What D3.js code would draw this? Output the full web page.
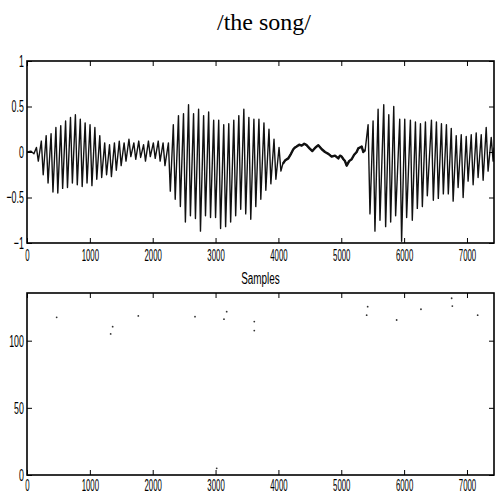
<!DOCTYPE html>
<html>
<head>
<meta charset="utf-8">
<script src="https://cdnjs.cloudflare.com/ajax/libs/d3/7.8.5/d3.min.js"></script>
<style>
  body { margin: 0; background: #fff; }
  svg { display: block; }
</style>
</head>
<body>
<svg id="plot" width="495" height="494"></svg>
<script>
// voiced part 1: pulse sample, peak, trough
const pulseSec1 = [150, 228, 305, 383, 460, 537, 614, 692, 770, 848, 925, 1003, 1080, 1158, 1236, 1313, 1391, 1468, 1545, 1622, 1700, 1778, 1855, 1932, 2010, 2088, 2165];
const hiSec1 = [0.05, 0.12, 0.18, 0.2, 0.27, 0.29, 0.34, 0.38, 0.41, 0.36, 0.32, 0.3, 0.27, 0.18, 0.1, 0.08, 0.1, 0.12, 0.1, 0.14, 0.1, 0.12, 0.08, 0.12, 0.1, 0.12, 0.1];
const loSec1 = [-0.1, -0.25, -0.34, -0.44, -0.45, -0.4, -0.39, -0.34, -0.36, -0.38, -0.34, -0.37, -0.3, -0.28, -0.25, -0.27, -0.2, -0.15, -0.1, -0.05, -0.08, -0.06, -0.1, -0.05, -0.07, -0.1, -0.15];

// voiced part 2
const pulseSec2 = [2250, 2328, 2410, 2490, 2570, 2650, 2730, 2810, 2890, 2970, 3050, 3130, 3210, 3290, 3370, 3450, 3530, 3610, 3690, 3770, 3850, 3930, 4010];
const hiSec2 = [0.1, 0.3, 0.4, 0.42, 0.52, 0.42, 0.47, 0.4, 0.44, 0.35, 0.35, 0.3, 0.31, 0.35, 0.4, 0.47, 0.38, 0.36, 0.36, 0.32, 0.25, 0.14, 0.05];
const loSec2 = [-0.43, -0.52, -0.6, -0.77, -0.7, -0.73, -0.87, -0.7, -0.72, -0.72, -0.84, -0.82, -0.77, -0.7, -0.63, -0.68, -0.74, -0.6, -0.52, -0.42, -0.35, -0.3, -0.21];

// unvoiced stretch ("s")
const noiseSamples = [4070, 4110, 4157, 4200, 4237, 4265, 4290, 4330, 4370, 4410, 4450, 4495, 4540, 4590, 4635, 4690, 4741, 4795, 4847, 4900, 4953, 4980, 5006, 5035, 5059, 5086, 5125, 5165, 5205, 5245, 5270, 5298, 5325, 5350, 5380];
const noiseValues = [-0.13, -0.09, -0.07, -0.02, 0.03, 0.05, 0.06, 0.08, 0.07, 0.09, 0.075, 0.04, 0.01, 0.05, 0.075, 0.03, 0.0, -0.02, -0.05, -0.04, -0.07, -0.04, -0.05, -0.08, -0.1, -0.15, -0.1, -0.08, -0.03, 0.0, 0.04, 0.05, 0.06, 0.0, 0.02];

// voiced part 3
const pulseSec3 = [5427, 5506, 5586, 5676, 5756, 5835, 5930, 6010, 6100, 6180, 6260, 6339, 6435, 6514, 6594, 6673, 6750, 6829, 6909, 6988, 7068, 7147, 7227, 7306, 7386];
const hiSec3 = [0.3, 0.34, 0.47, 0.52, 0.41, 0.5, 0.36, 0.36, 0.35, 0.33, 0.31, 0.33, 0.35, 0.33, 0.31, 0.3, 0.26, 0.18, 0.19, 0.17, 0.19, 0.21, 0.19, 0.27, 0.16];
const loSec3 = [-0.68, -0.87, -0.75, -0.82, -0.77, -0.7, -0.98, -0.72, -0.75, -0.62, -0.6, -0.48, -0.53, -0.51, -0.46, -0.46, -0.54, -0.39, -0.5, -0.32, -0.36, -0.28, -0.31, -0.21, -0.1];

// pitch track dots
const pitchSamples = [472, 1331, 1363, 1771, 2673, 3018, 3134, 3177, 3616, 3616, 5404, 5420, 5881, 6268, 6756, 6767, 7170];
const pitchValues = [117.4, 105, 110.4, 118.4, 117.9, 5, 116, 121.6, 114.2, 107.5, 119, 125.3, 115.4, 123.4, 131.6, 125.8, 119];

const xTicks = [0, 1000, 2000, 3000, 4000, 5000, 6000, 7000];
const waveTicks = [-1, -0.5, 0, 0.5, 1];
const pitchTicks = [0, 50, 100];

const plot = d3.select('#plot');
const left = 27, right = 494;
const labelFont = 'Liberation Sans, Arial, sans-serif';

const xScale = d3.scaleLinear().domain([0, 7430]).range([left, right]);
const yWave = d3.scaleLinear().domain([-1, 1]).range([243, 61]);
const yPitch = d3.scaleLinear().domain([0, 135.5]).range([475, 293]);

// build the waveform vertices: peak then trough for each pulse
const wave = [[0, 0], [60, 0.01], [110, -0.02]];
function addPulses(ts, his, los) {
  ts.forEach((t, i) => {
    wave.push([t, his[i]]);
    wave.push([t + 30, los[i]]);
  });
}
addPulses(pulseSec1, hiSec1, loSec1);
addPulses(pulseSec2, hiSec2, loSec2);
const noise = noiseSamples.map((s, i) => [s, noiseValues[i]]);
wave.push(...noise);
addPulses(pulseSec3, hiSec3, loSec3);
wave.push([7430, 0.05]);

plot.append('text')
  .attr('x', 264)
  .attr('y', 30)
  .attr('text-anchor', 'middle')
  .style('font-family', 'Liberation Serif, Times New Roman, serif')
  .style('font-size', '24px')
  .text('/the song/');

plot.append('clipPath').attr('id', 'clipTop')
  .append('rect').attr('x', left).attr('y', 61).attr('width', right - left).attr('height', 182);

const line = d3.line()
  .x(d => xScale(d[0]))
  .y(d => yWave(d[1]));

plot.append('path')
  .attr('clip-path', 'url(#clipTop)')
  .attr('d', line(wave))
  .attr('fill', 'none')
  .attr('stroke', '#111')
  .attr('stroke-width', 1.4)
  .attr('stroke-linejoin', 'round');

// the noisy stretch looks heavier in the scan
plot.append('path')
  .attr('d', line(noise))
  .attr('fill', 'none')
  .attr('stroke', '#111')
  .attr('stroke-width', 2.4)
  .attr('stroke-linejoin', 'round');

plot.append('g')
  .selectAll('circle')
  .data(pitchSamples)
  .join('circle')
  .attr('cx', d => xScale(d))
  .attr('cy', (d, i) => yPitch(pitchValues[i]))
  .attr('r', 0.9)
  .attr('fill', '#333');

function drawAxes(yScale, yTicks, yFormat, top, bottom, labelPad) {
  const xb = d3.axisBottom(xScale).tickValues(xTicks).tickFormat(d3.format('d'))
    .tickSizeInner(-5).tickSizeOuter(0).tickPadding(labelPad);
  const xt = d3.axisTop(xScale).tickValues(xTicks).tickFormat('')
    .tickSizeInner(-5).tickSizeOuter(0);
  const yl = d3.axisLeft(yScale).tickValues(yTicks).tickFormat(yFormat)
    .tickSizeInner(-5).tickSizeOuter(0);
  const yr = d3.axisRight(yScale).tickValues(yTicks).tickFormat('')
    .tickSizeInner(-5).tickSizeOuter(0);

  const gb = plot.append('g').attr('transform', `translate(0, ${bottom})`).call(xb);
  plot.append('g').attr('transform', `translate(0, ${top})`).call(xt);
  const gl = plot.append('g').attr('transform', `translate(${left}, 0)`).call(yl);
  plot.append('g').attr('transform', `translate(${right}, 0)`).call(yr);

  plot.selectAll('.domain').remove();
  plot.selectAll('.tick line').attr('stroke', '#000').attr('stroke-width', 1);

  gb.selectAll('text')
    .attr('transform', 'scale(0.46,1)')
    .style('font-family', labelFont)
    .style('font-size', '17px')
    .attr('fill', '#000');
  gl.selectAll('text')
    .attr('x', -6)
    .attr('transform', 'scale(0.52,1)')
    .style('font-family', labelFont)
    .style('font-size', '17px')
    .attr('fill', '#000');

  plot.append('rect')
    .attr('x', left).attr('y', top)
    .attr('width', right - left).attr('height', bottom - top)
    .attr('fill', 'none')
    .attr('stroke', '#000')
    .attr('stroke-width', 1.6);
}

drawAxes(yWave, waveTicks, d3.format('~g'), 61, 243, 6);
drawAxes(yPitch, pitchTicks, d3.format('d'), 293, 475, 4);

plot.append('text')
  .attr('transform', `translate(${(left + right) / 2}, 284) scale(0.62,1)`)
  .attr('text-anchor', 'middle')
  .style('font-family', labelFont)
  .style('font-size', '16px')
  .text('Samples');
</script>
</body>
</html>
